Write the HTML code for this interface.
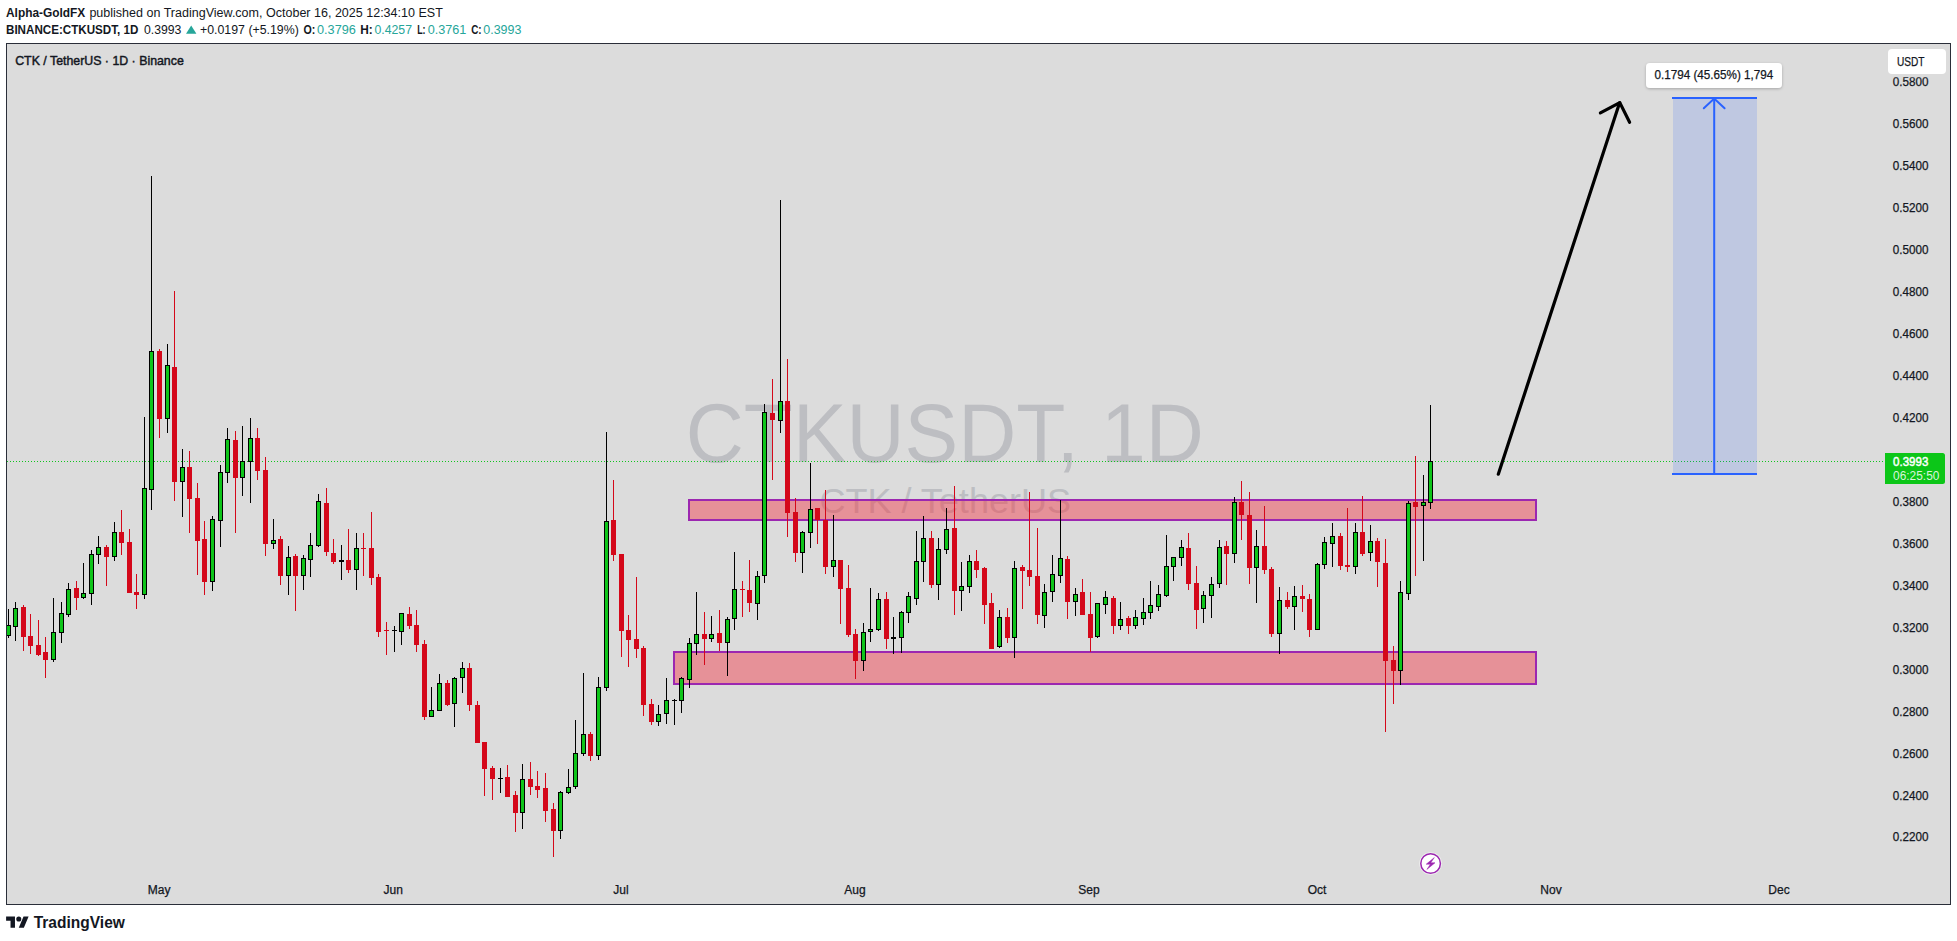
<!DOCTYPE html>
<html lang="en"><head><meta charset="utf-8"><title>CTKUSDT 1D chart</title>
<style>html,body{margin:0;padding:0;background:#fff;overflow:hidden}svg{display:block}text{font-family:"Liberation Sans", Arial, sans-serif;white-space:pre}</style>
</head><body>
<svg width="1957" height="941" viewBox="0 0 1957 941">
<defs><filter id="sh" x="-20%" y="-40%" width="140%" height="200%"><feGaussianBlur in="SourceAlpha" stdDeviation="1.5"/><feOffset dy="1"/><feComponentTransfer><feFuncA type="linear" slope="0.25"/></feComponentTransfer><feMerge><feMergeNode/><feMergeNode in="SourceGraphic"/></feMerge></filter>
<clipPath id="cp"><rect x="7" y="44" width="1943" height="860"/></clipPath></defs>
<rect width="1957" height="941" fill="#fff"/>
<rect x="6.5" y="43.5" width="1944" height="861" fill="#dcdcdc" stroke="#2a2e39" stroke-width="1"/>
<text x="685.8" y="461.5" font-size="84" font-weight="400" fill="#bdbec2" text-anchor="start" textLength="518.0" lengthAdjust="spacingAndGlyphs">CTKUSDT, 1D</text>
<text x="819.4" y="513.2" font-size="35" font-weight="400" fill="#bdbec2" text-anchor="start" textLength="251.6" lengthAdjust="spacingAndGlyphs">CTK / TetherUS</text>
<rect x="689" y="500" width="847" height="20" fill="rgba(242,54,69,0.45)" stroke="#9c27b0" stroke-width="2"/>
<rect x="674" y="652" width="862" height="32" fill="rgba(242,54,69,0.45)" stroke="#9c27b0" stroke-width="2"/>
<line x1="7" y1="461.5" x2="1885" y2="461.5" stroke="#10c41e" stroke-width="1" stroke-dasharray="1 2"/>
<g shape-rendering="crispEdges" clip-path="url(#cp)">
<rect x="8" y="609" width="1" height="29" fill="#000"/>
<rect x="6" y="625" width="5" height="11" fill="#000"/>
<rect x="7" y="626" width="3" height="9" fill="#0ec51a"/>
<rect x="15" y="602" width="1" height="39" fill="#000"/>
<rect x="13" y="608" width="5" height="19" fill="#000"/>
<rect x="14" y="609" width="3" height="17" fill="#0ec51a"/>
<rect x="23" y="605" width="1" height="46" fill="#d4081a"/>
<rect x="21" y="607" width="5" height="30" fill="#d4081a"/>
<rect x="30" y="614" width="1" height="40" fill="#d4081a"/>
<rect x="28" y="636" width="5" height="10" fill="#d4081a"/>
<rect x="38" y="620" width="1" height="36" fill="#d4081a"/>
<rect x="36" y="645" width="5" height="10" fill="#d4081a"/>
<rect x="45" y="637" width="1" height="41" fill="#d4081a"/>
<rect x="43" y="652" width="5" height="8" fill="#d4081a"/>
<rect x="53" y="598" width="1" height="64" fill="#000"/>
<rect x="51" y="632" width="5" height="28" fill="#000"/>
<rect x="52" y="633" width="3" height="26" fill="#0ec51a"/>
<rect x="61" y="602" width="1" height="41" fill="#000"/>
<rect x="59" y="613" width="5" height="20" fill="#000"/>
<rect x="60" y="614" width="3" height="18" fill="#0ec51a"/>
<rect x="68" y="583" width="1" height="34" fill="#000"/>
<rect x="66" y="589" width="5" height="26" fill="#000"/>
<rect x="67" y="590" width="3" height="24" fill="#0ec51a"/>
<rect x="76" y="581" width="1" height="29" fill="#d4081a"/>
<rect x="74" y="588" width="5" height="10" fill="#d4081a"/>
<rect x="83" y="563" width="1" height="36" fill="#000"/>
<rect x="81" y="593" width="5" height="5" fill="#000"/>
<rect x="82" y="594" width="3" height="3" fill="#0ec51a"/>
<rect x="91" y="550" width="1" height="55" fill="#000"/>
<rect x="89" y="554" width="5" height="40" fill="#000"/>
<rect x="90" y="555" width="3" height="38" fill="#0ec51a"/>
<rect x="98" y="536" width="1" height="28" fill="#000"/>
<rect x="96" y="547" width="5" height="8" fill="#000"/>
<rect x="97" y="548" width="3" height="6" fill="#0ec51a"/>
<rect x="106" y="545" width="1" height="41" fill="#d4081a"/>
<rect x="104" y="547" width="5" height="10" fill="#d4081a"/>
<rect x="114" y="522" width="1" height="39" fill="#000"/>
<rect x="112" y="532" width="5" height="25" fill="#000"/>
<rect x="113" y="533" width="3" height="23" fill="#0ec51a"/>
<rect x="121" y="510" width="1" height="45" fill="#d4081a"/>
<rect x="119" y="532" width="5" height="11" fill="#d4081a"/>
<rect x="129" y="529" width="1" height="64" fill="#d4081a"/>
<rect x="127" y="542" width="5" height="51" fill="#d4081a"/>
<rect x="136" y="574" width="1" height="35" fill="#d4081a"/>
<rect x="134" y="592" width="5" height="3" fill="#d4081a"/>
<rect x="144" y="417" width="1" height="182" fill="#000"/>
<rect x="142" y="488" width="5" height="107" fill="#000"/>
<rect x="143" y="489" width="3" height="105" fill="#0ec51a"/>
<rect x="151" y="176" width="1" height="334" fill="#000"/>
<rect x="149" y="351" width="5" height="139" fill="#000"/>
<rect x="150" y="352" width="3" height="137" fill="#0ec51a"/>
<rect x="159" y="349" width="1" height="89" fill="#d4081a"/>
<rect x="157" y="351" width="5" height="68" fill="#d4081a"/>
<rect x="167" y="344" width="1" height="89" fill="#000"/>
<rect x="165" y="365" width="5" height="54" fill="#000"/>
<rect x="166" y="366" width="3" height="52" fill="#0ec51a"/>
<rect x="174" y="291" width="1" height="210" fill="#d4081a"/>
<rect x="172" y="367" width="5" height="115" fill="#d4081a"/>
<rect x="182" y="449" width="1" height="68" fill="#000"/>
<rect x="180" y="467" width="5" height="15" fill="#000"/>
<rect x="181" y="468" width="3" height="13" fill="#0ec51a"/>
<rect x="189" y="451" width="1" height="82" fill="#d4081a"/>
<rect x="187" y="467" width="5" height="32" fill="#d4081a"/>
<rect x="197" y="483" width="1" height="92" fill="#d4081a"/>
<rect x="195" y="498" width="5" height="43" fill="#d4081a"/>
<rect x="204" y="521" width="1" height="74" fill="#d4081a"/>
<rect x="202" y="539" width="5" height="43" fill="#d4081a"/>
<rect x="212" y="516" width="1" height="75" fill="#000"/>
<rect x="210" y="519" width="5" height="63" fill="#000"/>
<rect x="211" y="520" width="3" height="61" fill="#0ec51a"/>
<rect x="220" y="465" width="1" height="82" fill="#000"/>
<rect x="218" y="472" width="5" height="49" fill="#000"/>
<rect x="219" y="473" width="3" height="47" fill="#0ec51a"/>
<rect x="227" y="428" width="1" height="55" fill="#000"/>
<rect x="225" y="439" width="5" height="34" fill="#000"/>
<rect x="226" y="440" width="3" height="32" fill="#0ec51a"/>
<rect x="235" y="431" width="1" height="102" fill="#d4081a"/>
<rect x="233" y="440" width="5" height="38" fill="#d4081a"/>
<rect x="242" y="426" width="1" height="70" fill="#000"/>
<rect x="240" y="461" width="5" height="17" fill="#000"/>
<rect x="241" y="462" width="3" height="15" fill="#0ec51a"/>
<rect x="250" y="418" width="1" height="85" fill="#000"/>
<rect x="248" y="438" width="5" height="24" fill="#000"/>
<rect x="249" y="439" width="3" height="22" fill="#0ec51a"/>
<rect x="257" y="428" width="1" height="52" fill="#d4081a"/>
<rect x="255" y="438" width="5" height="33" fill="#d4081a"/>
<rect x="265" y="457" width="1" height="99" fill="#d4081a"/>
<rect x="263" y="470" width="5" height="74" fill="#d4081a"/>
<rect x="273" y="519" width="1" height="30" fill="#000"/>
<rect x="271" y="540" width="5" height="4" fill="#000"/>
<rect x="272" y="541" width="3" height="2" fill="#0ec51a"/>
<rect x="280" y="536" width="1" height="49" fill="#d4081a"/>
<rect x="278" y="539" width="5" height="37" fill="#d4081a"/>
<rect x="288" y="546" width="1" height="49" fill="#000"/>
<rect x="286" y="557" width="5" height="19" fill="#000"/>
<rect x="287" y="558" width="3" height="17" fill="#0ec51a"/>
<rect x="295" y="554" width="1" height="57" fill="#d4081a"/>
<rect x="293" y="556" width="5" height="20" fill="#d4081a"/>
<rect x="303" y="555" width="1" height="35" fill="#000"/>
<rect x="301" y="558" width="5" height="18" fill="#000"/>
<rect x="302" y="559" width="3" height="16" fill="#0ec51a"/>
<rect x="310" y="533" width="1" height="44" fill="#000"/>
<rect x="308" y="545" width="5" height="15" fill="#000"/>
<rect x="309" y="546" width="3" height="13" fill="#0ec51a"/>
<rect x="318" y="494" width="1" height="53" fill="#000"/>
<rect x="316" y="501" width="5" height="45" fill="#000"/>
<rect x="317" y="502" width="3" height="43" fill="#0ec51a"/>
<rect x="326" y="488" width="1" height="68" fill="#d4081a"/>
<rect x="324" y="503" width="5" height="49" fill="#d4081a"/>
<rect x="333" y="539" width="1" height="25" fill="#d4081a"/>
<rect x="331" y="553" width="5" height="9" fill="#d4081a"/>
<rect x="341" y="545" width="1" height="35" fill="#000"/>
<rect x="339" y="560" width="5" height="2" fill="#000"/>
<rect x="348" y="529" width="1" height="44" fill="#d4081a"/>
<rect x="346" y="560" width="5" height="10" fill="#d4081a"/>
<rect x="356" y="533" width="1" height="57" fill="#000"/>
<rect x="354" y="548" width="5" height="22" fill="#000"/>
<rect x="355" y="549" width="3" height="20" fill="#0ec51a"/>
<rect x="363" y="533" width="1" height="43" fill="#d4081a"/>
<rect x="361" y="548" width="5" height="1" fill="#d4081a"/>
<rect x="371" y="512" width="1" height="73" fill="#d4081a"/>
<rect x="369" y="548" width="5" height="30" fill="#d4081a"/>
<rect x="378" y="574" width="1" height="63" fill="#d4081a"/>
<rect x="376" y="577" width="5" height="55" fill="#d4081a"/>
<rect x="386" y="622" width="1" height="33" fill="#d4081a"/>
<rect x="384" y="630" width="5" height="1" fill="#d4081a"/>
<rect x="394" y="626" width="1" height="26" fill="#000"/>
<rect x="392" y="630" width="5" height="1" fill="#000"/>
<rect x="401" y="613" width="1" height="32" fill="#000"/>
<rect x="399" y="613" width="5" height="19" fill="#000"/>
<rect x="400" y="614" width="3" height="17" fill="#0ec51a"/>
<rect x="409" y="607" width="1" height="22" fill="#d4081a"/>
<rect x="407" y="614" width="5" height="12" fill="#d4081a"/>
<rect x="416" y="610" width="1" height="42" fill="#d4081a"/>
<rect x="414" y="625" width="5" height="20" fill="#d4081a"/>
<rect x="424" y="640" width="1" height="80" fill="#d4081a"/>
<rect x="422" y="644" width="5" height="73" fill="#d4081a"/>
<rect x="431" y="687" width="1" height="30" fill="#000"/>
<rect x="429" y="710" width="5" height="7" fill="#000"/>
<rect x="430" y="711" width="3" height="5" fill="#0ec51a"/>
<rect x="439" y="674" width="1" height="37" fill="#000"/>
<rect x="437" y="683" width="5" height="28" fill="#000"/>
<rect x="438" y="684" width="3" height="26" fill="#0ec51a"/>
<rect x="447" y="680" width="1" height="26" fill="#d4081a"/>
<rect x="445" y="683" width="5" height="22" fill="#d4081a"/>
<rect x="454" y="677" width="1" height="50" fill="#000"/>
<rect x="452" y="678" width="5" height="26" fill="#000"/>
<rect x="453" y="679" width="3" height="24" fill="#0ec51a"/>
<rect x="462" y="662" width="1" height="31" fill="#000"/>
<rect x="460" y="668" width="5" height="10" fill="#000"/>
<rect x="461" y="669" width="3" height="8" fill="#0ec51a"/>
<rect x="469" y="663" width="1" height="48" fill="#d4081a"/>
<rect x="467" y="668" width="5" height="37" fill="#d4081a"/>
<rect x="477" y="701" width="1" height="42" fill="#d4081a"/>
<rect x="475" y="705" width="5" height="38" fill="#d4081a"/>
<rect x="484" y="742" width="1" height="54" fill="#d4081a"/>
<rect x="482" y="742" width="5" height="27" fill="#d4081a"/>
<rect x="492" y="766" width="1" height="34" fill="#d4081a"/>
<rect x="490" y="768" width="5" height="11" fill="#d4081a"/>
<rect x="500" y="768" width="1" height="25" fill="#000"/>
<rect x="498" y="778" width="5" height="1" fill="#000"/>
<rect x="507" y="765" width="1" height="32" fill="#d4081a"/>
<rect x="505" y="777" width="5" height="20" fill="#d4081a"/>
<rect x="515" y="791" width="1" height="41" fill="#d4081a"/>
<rect x="513" y="795" width="5" height="18" fill="#d4081a"/>
<rect x="522" y="764" width="1" height="65" fill="#000"/>
<rect x="520" y="779" width="5" height="34" fill="#000"/>
<rect x="521" y="780" width="3" height="32" fill="#0ec51a"/>
<rect x="530" y="762" width="1" height="33" fill="#d4081a"/>
<rect x="528" y="779" width="5" height="8" fill="#d4081a"/>
<rect x="537" y="771" width="1" height="27" fill="#d4081a"/>
<rect x="535" y="786" width="5" height="4" fill="#d4081a"/>
<rect x="545" y="773" width="1" height="49" fill="#d4081a"/>
<rect x="543" y="788" width="5" height="23" fill="#d4081a"/>
<rect x="553" y="803" width="1" height="54" fill="#d4081a"/>
<rect x="551" y="809" width="5" height="22" fill="#d4081a"/>
<rect x="560" y="791" width="1" height="48" fill="#000"/>
<rect x="558" y="792" width="5" height="39" fill="#000"/>
<rect x="559" y="793" width="3" height="37" fill="#0ec51a"/>
<rect x="568" y="769" width="1" height="25" fill="#000"/>
<rect x="566" y="787" width="5" height="6" fill="#000"/>
<rect x="567" y="788" width="3" height="4" fill="#0ec51a"/>
<rect x="575" y="720" width="1" height="69" fill="#000"/>
<rect x="573" y="753" width="5" height="34" fill="#000"/>
<rect x="574" y="754" width="3" height="32" fill="#0ec51a"/>
<rect x="583" y="673" width="1" height="83" fill="#000"/>
<rect x="581" y="734" width="5" height="20" fill="#000"/>
<rect x="582" y="735" width="3" height="18" fill="#0ec51a"/>
<rect x="590" y="732" width="1" height="29" fill="#d4081a"/>
<rect x="588" y="734" width="5" height="22" fill="#d4081a"/>
<rect x="598" y="677" width="1" height="83" fill="#000"/>
<rect x="596" y="687" width="5" height="69" fill="#000"/>
<rect x="597" y="688" width="3" height="67" fill="#0ec51a"/>
<rect x="606" y="432" width="1" height="259" fill="#000"/>
<rect x="604" y="521" width="5" height="167" fill="#000"/>
<rect x="605" y="522" width="3" height="165" fill="#0ec51a"/>
<rect x="613" y="480" width="1" height="81" fill="#d4081a"/>
<rect x="611" y="520" width="5" height="35" fill="#d4081a"/>
<rect x="621" y="554" width="1" height="103" fill="#d4081a"/>
<rect x="619" y="554" width="5" height="77" fill="#d4081a"/>
<rect x="628" y="615" width="1" height="52" fill="#d4081a"/>
<rect x="626" y="630" width="5" height="10" fill="#d4081a"/>
<rect x="636" y="577" width="1" height="81" fill="#d4081a"/>
<rect x="634" y="639" width="5" height="10" fill="#d4081a"/>
<rect x="643" y="646" width="1" height="70" fill="#d4081a"/>
<rect x="641" y="648" width="5" height="57" fill="#d4081a"/>
<rect x="651" y="699" width="1" height="26" fill="#d4081a"/>
<rect x="649" y="704" width="5" height="18" fill="#d4081a"/>
<rect x="658" y="705" width="1" height="21" fill="#000"/>
<rect x="656" y="714" width="5" height="8" fill="#000"/>
<rect x="657" y="715" width="3" height="6" fill="#0ec51a"/>
<rect x="666" y="678" width="1" height="46" fill="#000"/>
<rect x="664" y="700" width="5" height="14" fill="#000"/>
<rect x="665" y="701" width="3" height="12" fill="#0ec51a"/>
<rect x="674" y="699" width="1" height="26" fill="#000"/>
<rect x="672" y="700" width="5" height="1" fill="#000"/>
<rect x="681" y="677" width="1" height="36" fill="#000"/>
<rect x="679" y="678" width="5" height="23" fill="#000"/>
<rect x="680" y="679" width="3" height="21" fill="#0ec51a"/>
<rect x="689" y="638" width="1" height="50" fill="#000"/>
<rect x="687" y="643" width="5" height="37" fill="#000"/>
<rect x="688" y="644" width="3" height="35" fill="#0ec51a"/>
<rect x="696" y="592" width="1" height="63" fill="#000"/>
<rect x="694" y="634" width="5" height="10" fill="#000"/>
<rect x="695" y="635" width="3" height="8" fill="#0ec51a"/>
<rect x="704" y="612" width="1" height="53" fill="#d4081a"/>
<rect x="702" y="634" width="5" height="5" fill="#d4081a"/>
<rect x="711" y="616" width="1" height="26" fill="#000"/>
<rect x="709" y="634" width="5" height="5" fill="#000"/>
<rect x="710" y="635" width="3" height="3" fill="#0ec51a"/>
<rect x="719" y="610" width="1" height="41" fill="#d4081a"/>
<rect x="717" y="633" width="5" height="10" fill="#d4081a"/>
<rect x="727" y="617" width="1" height="59" fill="#000"/>
<rect x="725" y="619" width="5" height="24" fill="#000"/>
<rect x="726" y="620" width="3" height="22" fill="#0ec51a"/>
<rect x="734" y="552" width="1" height="78" fill="#000"/>
<rect x="732" y="589" width="5" height="30" fill="#000"/>
<rect x="733" y="590" width="3" height="28" fill="#0ec51a"/>
<rect x="742" y="581" width="1" height="36" fill="#d4081a"/>
<rect x="740" y="589" width="5" height="1" fill="#d4081a"/>
<rect x="749" y="560" width="1" height="52" fill="#d4081a"/>
<rect x="747" y="590" width="5" height="13" fill="#d4081a"/>
<rect x="757" y="571" width="1" height="49" fill="#000"/>
<rect x="755" y="576" width="5" height="28" fill="#000"/>
<rect x="756" y="577" width="3" height="26" fill="#0ec51a"/>
<rect x="764" y="404" width="1" height="179" fill="#000"/>
<rect x="762" y="412" width="5" height="164" fill="#000"/>
<rect x="763" y="413" width="3" height="162" fill="#0ec51a"/>
<rect x="772" y="379" width="1" height="101" fill="#d4081a"/>
<rect x="770" y="413" width="5" height="7" fill="#d4081a"/>
<rect x="780" y="200" width="1" height="233" fill="#000"/>
<rect x="778" y="401" width="5" height="20" fill="#000"/>
<rect x="779" y="402" width="3" height="18" fill="#0ec51a"/>
<rect x="787" y="359" width="1" height="178" fill="#d4081a"/>
<rect x="785" y="401" width="5" height="112" fill="#d4081a"/>
<rect x="795" y="498" width="1" height="64" fill="#d4081a"/>
<rect x="793" y="512" width="5" height="41" fill="#d4081a"/>
<rect x="802" y="531" width="1" height="42" fill="#000"/>
<rect x="800" y="532" width="5" height="21" fill="#000"/>
<rect x="801" y="533" width="3" height="19" fill="#0ec51a"/>
<rect x="810" y="463" width="1" height="85" fill="#000"/>
<rect x="808" y="509" width="5" height="24" fill="#000"/>
<rect x="809" y="510" width="3" height="22" fill="#0ec51a"/>
<rect x="817" y="508" width="1" height="36" fill="#d4081a"/>
<rect x="815" y="508" width="5" height="12" fill="#d4081a"/>
<rect x="825" y="490" width="1" height="84" fill="#d4081a"/>
<rect x="823" y="520" width="5" height="47" fill="#d4081a"/>
<rect x="833" y="515" width="1" height="62" fill="#000"/>
<rect x="831" y="560" width="5" height="7" fill="#000"/>
<rect x="832" y="561" width="3" height="5" fill="#0ec51a"/>
<rect x="840" y="560" width="1" height="64" fill="#d4081a"/>
<rect x="838" y="560" width="5" height="29" fill="#d4081a"/>
<rect x="848" y="565" width="1" height="72" fill="#d4081a"/>
<rect x="846" y="588" width="5" height="47" fill="#d4081a"/>
<rect x="855" y="629" width="1" height="50" fill="#d4081a"/>
<rect x="853" y="634" width="5" height="27" fill="#d4081a"/>
<rect x="863" y="623" width="1" height="48" fill="#000"/>
<rect x="861" y="632" width="5" height="29" fill="#000"/>
<rect x="862" y="633" width="3" height="27" fill="#0ec51a"/>
<rect x="870" y="588" width="1" height="54" fill="#000"/>
<rect x="868" y="629" width="5" height="3" fill="#000"/>
<rect x="869" y="630" width="3" height="1" fill="#0ec51a"/>
<rect x="878" y="593" width="1" height="38" fill="#000"/>
<rect x="876" y="599" width="5" height="31" fill="#000"/>
<rect x="877" y="600" width="3" height="29" fill="#0ec51a"/>
<rect x="886" y="592" width="1" height="57" fill="#d4081a"/>
<rect x="884" y="599" width="5" height="40" fill="#d4081a"/>
<rect x="893" y="617" width="1" height="37" fill="#000"/>
<rect x="891" y="637" width="5" height="2" fill="#000"/>
<rect x="901" y="611" width="1" height="42" fill="#000"/>
<rect x="899" y="612" width="5" height="26" fill="#000"/>
<rect x="900" y="613" width="3" height="24" fill="#0ec51a"/>
<rect x="908" y="592" width="1" height="31" fill="#000"/>
<rect x="906" y="596" width="5" height="17" fill="#000"/>
<rect x="907" y="597" width="3" height="15" fill="#0ec51a"/>
<rect x="916" y="531" width="1" height="74" fill="#000"/>
<rect x="914" y="561" width="5" height="38" fill="#000"/>
<rect x="915" y="562" width="3" height="36" fill="#0ec51a"/>
<rect x="923" y="516" width="1" height="66" fill="#000"/>
<rect x="921" y="538" width="5" height="24" fill="#000"/>
<rect x="922" y="539" width="3" height="22" fill="#0ec51a"/>
<rect x="931" y="531" width="1" height="57" fill="#d4081a"/>
<rect x="929" y="538" width="5" height="47" fill="#d4081a"/>
<rect x="938" y="538" width="1" height="62" fill="#000"/>
<rect x="936" y="549" width="5" height="36" fill="#000"/>
<rect x="937" y="550" width="3" height="34" fill="#0ec51a"/>
<rect x="946" y="508" width="1" height="46" fill="#000"/>
<rect x="944" y="529" width="5" height="21" fill="#000"/>
<rect x="945" y="530" width="3" height="19" fill="#0ec51a"/>
<rect x="954" y="486" width="1" height="129" fill="#d4081a"/>
<rect x="952" y="528" width="5" height="63" fill="#d4081a"/>
<rect x="961" y="562" width="1" height="49" fill="#000"/>
<rect x="959" y="586" width="5" height="5" fill="#000"/>
<rect x="960" y="587" width="3" height="3" fill="#0ec51a"/>
<rect x="969" y="555" width="1" height="38" fill="#000"/>
<rect x="967" y="561" width="5" height="26" fill="#000"/>
<rect x="968" y="562" width="3" height="24" fill="#0ec51a"/>
<rect x="976" y="550" width="1" height="28" fill="#d4081a"/>
<rect x="974" y="561" width="5" height="9" fill="#d4081a"/>
<rect x="984" y="567" width="1" height="57" fill="#d4081a"/>
<rect x="982" y="568" width="5" height="37" fill="#d4081a"/>
<rect x="991" y="593" width="1" height="56" fill="#d4081a"/>
<rect x="989" y="603" width="5" height="46" fill="#d4081a"/>
<rect x="999" y="610" width="1" height="38" fill="#000"/>
<rect x="997" y="617" width="5" height="30" fill="#000"/>
<rect x="998" y="618" width="3" height="28" fill="#0ec51a"/>
<rect x="1007" y="608" width="1" height="35" fill="#d4081a"/>
<rect x="1005" y="617" width="5" height="21" fill="#d4081a"/>
<rect x="1014" y="561" width="1" height="97" fill="#000"/>
<rect x="1012" y="568" width="5" height="70" fill="#000"/>
<rect x="1013" y="569" width="3" height="68" fill="#0ec51a"/>
<rect x="1022" y="565" width="1" height="44" fill="#d4081a"/>
<rect x="1020" y="567" width="5" height="4" fill="#d4081a"/>
<rect x="1029" y="492" width="1" height="94" fill="#d4081a"/>
<rect x="1027" y="570" width="5" height="7" fill="#d4081a"/>
<rect x="1037" y="528" width="1" height="96" fill="#d4081a"/>
<rect x="1035" y="576" width="5" height="39" fill="#d4081a"/>
<rect x="1044" y="584" width="1" height="44" fill="#000"/>
<rect x="1042" y="592" width="5" height="24" fill="#000"/>
<rect x="1043" y="593" width="3" height="22" fill="#0ec51a"/>
<rect x="1052" y="555" width="1" height="47" fill="#000"/>
<rect x="1050" y="574" width="5" height="18" fill="#000"/>
<rect x="1051" y="575" width="3" height="16" fill="#0ec51a"/>
<rect x="1060" y="500" width="1" height="83" fill="#000"/>
<rect x="1058" y="558" width="5" height="18" fill="#000"/>
<rect x="1059" y="559" width="3" height="16" fill="#0ec51a"/>
<rect x="1067" y="556" width="1" height="63" fill="#d4081a"/>
<rect x="1065" y="559" width="5" height="43" fill="#d4081a"/>
<rect x="1075" y="588" width="1" height="28" fill="#000"/>
<rect x="1073" y="594" width="5" height="8" fill="#000"/>
<rect x="1074" y="595" width="3" height="6" fill="#0ec51a"/>
<rect x="1082" y="579" width="1" height="36" fill="#d4081a"/>
<rect x="1080" y="592" width="5" height="23" fill="#d4081a"/>
<rect x="1090" y="592" width="1" height="60" fill="#d4081a"/>
<rect x="1088" y="614" width="5" height="24" fill="#d4081a"/>
<rect x="1097" y="603" width="1" height="35" fill="#000"/>
<rect x="1095" y="603" width="5" height="34" fill="#000"/>
<rect x="1096" y="604" width="3" height="32" fill="#0ec51a"/>
<rect x="1105" y="591" width="1" height="23" fill="#000"/>
<rect x="1103" y="597" width="5" height="8" fill="#000"/>
<rect x="1104" y="598" width="3" height="6" fill="#0ec51a"/>
<rect x="1113" y="596" width="1" height="38" fill="#d4081a"/>
<rect x="1111" y="598" width="5" height="28" fill="#d4081a"/>
<rect x="1120" y="602" width="1" height="28" fill="#000"/>
<rect x="1118" y="619" width="5" height="7" fill="#000"/>
<rect x="1119" y="620" width="3" height="5" fill="#0ec51a"/>
<rect x="1128" y="616" width="1" height="18" fill="#d4081a"/>
<rect x="1126" y="618" width="5" height="8" fill="#d4081a"/>
<rect x="1135" y="610" width="1" height="19" fill="#000"/>
<rect x="1133" y="617" width="5" height="9" fill="#000"/>
<rect x="1134" y="618" width="3" height="7" fill="#0ec51a"/>
<rect x="1143" y="598" width="1" height="27" fill="#000"/>
<rect x="1141" y="612" width="5" height="7" fill="#000"/>
<rect x="1142" y="613" width="3" height="5" fill="#0ec51a"/>
<rect x="1150" y="581" width="1" height="38" fill="#000"/>
<rect x="1148" y="605" width="5" height="8" fill="#000"/>
<rect x="1149" y="606" width="3" height="6" fill="#0ec51a"/>
<rect x="1158" y="585" width="1" height="26" fill="#000"/>
<rect x="1156" y="594" width="5" height="13" fill="#000"/>
<rect x="1157" y="595" width="3" height="11" fill="#0ec51a"/>
<rect x="1166" y="535" width="1" height="62" fill="#000"/>
<rect x="1164" y="566" width="5" height="30" fill="#000"/>
<rect x="1165" y="567" width="3" height="28" fill="#0ec51a"/>
<rect x="1173" y="557" width="1" height="24" fill="#000"/>
<rect x="1171" y="557" width="5" height="10" fill="#000"/>
<rect x="1172" y="558" width="3" height="8" fill="#0ec51a"/>
<rect x="1181" y="540" width="1" height="26" fill="#000"/>
<rect x="1179" y="547" width="5" height="11" fill="#000"/>
<rect x="1180" y="548" width="3" height="9" fill="#0ec51a"/>
<rect x="1188" y="533" width="1" height="57" fill="#d4081a"/>
<rect x="1186" y="548" width="5" height="36" fill="#d4081a"/>
<rect x="1196" y="566" width="1" height="63" fill="#d4081a"/>
<rect x="1194" y="583" width="5" height="27" fill="#d4081a"/>
<rect x="1203" y="591" width="1" height="32" fill="#000"/>
<rect x="1201" y="595" width="5" height="14" fill="#000"/>
<rect x="1202" y="596" width="3" height="12" fill="#0ec51a"/>
<rect x="1211" y="577" width="1" height="41" fill="#000"/>
<rect x="1209" y="584" width="5" height="12" fill="#000"/>
<rect x="1210" y="585" width="3" height="10" fill="#0ec51a"/>
<rect x="1219" y="540" width="1" height="48" fill="#000"/>
<rect x="1217" y="547" width="5" height="37" fill="#000"/>
<rect x="1218" y="548" width="3" height="35" fill="#0ec51a"/>
<rect x="1226" y="541" width="1" height="44" fill="#d4081a"/>
<rect x="1224" y="546" width="5" height="8" fill="#d4081a"/>
<rect x="1234" y="497" width="1" height="66" fill="#000"/>
<rect x="1232" y="502" width="5" height="52" fill="#000"/>
<rect x="1233" y="503" width="3" height="50" fill="#0ec51a"/>
<rect x="1241" y="481" width="1" height="59" fill="#d4081a"/>
<rect x="1239" y="502" width="5" height="13" fill="#d4081a"/>
<rect x="1249" y="492" width="1" height="92" fill="#d4081a"/>
<rect x="1247" y="515" width="5" height="53" fill="#d4081a"/>
<rect x="1256" y="530" width="1" height="73" fill="#000"/>
<rect x="1254" y="546" width="5" height="22" fill="#000"/>
<rect x="1255" y="547" width="3" height="20" fill="#0ec51a"/>
<rect x="1264" y="506" width="1" height="68" fill="#d4081a"/>
<rect x="1262" y="546" width="5" height="24" fill="#d4081a"/>
<rect x="1271" y="567" width="1" height="70" fill="#d4081a"/>
<rect x="1269" y="569" width="5" height="65" fill="#d4081a"/>
<rect x="1279" y="587" width="1" height="67" fill="#000"/>
<rect x="1277" y="600" width="5" height="34" fill="#000"/>
<rect x="1278" y="601" width="3" height="32" fill="#0ec51a"/>
<rect x="1287" y="592" width="1" height="17" fill="#d4081a"/>
<rect x="1285" y="600" width="5" height="7" fill="#d4081a"/>
<rect x="1294" y="586" width="1" height="44" fill="#000"/>
<rect x="1292" y="596" width="5" height="11" fill="#000"/>
<rect x="1293" y="597" width="3" height="9" fill="#0ec51a"/>
<rect x="1302" y="585" width="1" height="27" fill="#d4081a"/>
<rect x="1300" y="596" width="5" height="3" fill="#d4081a"/>
<rect x="1309" y="594" width="1" height="43" fill="#d4081a"/>
<rect x="1307" y="599" width="5" height="31" fill="#d4081a"/>
<rect x="1317" y="563" width="1" height="67" fill="#000"/>
<rect x="1315" y="564" width="5" height="66" fill="#000"/>
<rect x="1316" y="565" width="3" height="64" fill="#0ec51a"/>
<rect x="1324" y="537" width="1" height="32" fill="#000"/>
<rect x="1322" y="542" width="5" height="23" fill="#000"/>
<rect x="1323" y="543" width="3" height="21" fill="#0ec51a"/>
<rect x="1332" y="523" width="1" height="44" fill="#000"/>
<rect x="1330" y="536" width="5" height="8" fill="#000"/>
<rect x="1331" y="537" width="3" height="6" fill="#0ec51a"/>
<rect x="1340" y="533" width="1" height="37" fill="#d4081a"/>
<rect x="1338" y="536" width="5" height="30" fill="#d4081a"/>
<rect x="1347" y="508" width="1" height="64" fill="#d4081a"/>
<rect x="1345" y="565" width="5" height="2" fill="#d4081a"/>
<rect x="1355" y="523" width="1" height="51" fill="#000"/>
<rect x="1353" y="532" width="5" height="35" fill="#000"/>
<rect x="1354" y="533" width="3" height="33" fill="#0ec51a"/>
<rect x="1362" y="496" width="1" height="60" fill="#d4081a"/>
<rect x="1360" y="532" width="5" height="22" fill="#d4081a"/>
<rect x="1370" y="525" width="1" height="36" fill="#000"/>
<rect x="1368" y="541" width="5" height="12" fill="#000"/>
<rect x="1369" y="542" width="3" height="10" fill="#0ec51a"/>
<rect x="1377" y="538" width="1" height="49" fill="#d4081a"/>
<rect x="1375" y="541" width="5" height="21" fill="#d4081a"/>
<rect x="1385" y="539" width="1" height="193" fill="#d4081a"/>
<rect x="1383" y="563" width="5" height="98" fill="#d4081a"/>
<rect x="1393" y="646" width="1" height="58" fill="#d4081a"/>
<rect x="1391" y="660" width="5" height="11" fill="#d4081a"/>
<rect x="1400" y="581" width="1" height="104" fill="#000"/>
<rect x="1398" y="592" width="5" height="79" fill="#000"/>
<rect x="1399" y="593" width="3" height="77" fill="#0ec51a"/>
<rect x="1408" y="501" width="1" height="99" fill="#000"/>
<rect x="1406" y="503" width="5" height="91" fill="#000"/>
<rect x="1407" y="504" width="3" height="89" fill="#0ec51a"/>
<rect x="1415" y="456" width="1" height="120" fill="#d4081a"/>
<rect x="1413" y="502" width="5" height="5" fill="#d4081a"/>
<rect x="1423" y="475" width="1" height="86" fill="#000"/>
<rect x="1421" y="502" width="5" height="4" fill="#000"/>
<rect x="1422" y="503" width="3" height="2" fill="#0ec51a"/>
<rect x="1430" y="405" width="1" height="104" fill="#000"/>
<rect x="1428" y="461" width="5" height="42" fill="#000"/>
<rect x="1429" y="462" width="3" height="40" fill="#0ec51a"/>
</g>
<g fill="none" stroke="#000" stroke-width="3.2" stroke-linecap="round" stroke-linejoin="round">
<path d="M1498.3 474.2 L1619.6 102.8"/>
<path d="M1600.4 112.9 L1619.8 102.6 L1629.6 122.3"/>
</g>
<rect x="1673" y="98" width="84" height="376" fill="rgba(41,98,255,0.16)"/>
<g stroke="#2962ff" stroke-width="2" fill="none">
<path d="M1672 98 H1757"/><path d="M1672 474 H1757"/><path d="M1714.2 474 V99"/><path stroke-linecap="round" d="M1703.8 108.3 L1714.2 98.5 L1724.6 108.3"/>
</g>
<rect x="1646" y="63" width="136" height="25" rx="4" fill="#fff" filter="url(#sh)"/>
<text x="1654.6" y="79.3" font-size="12" font-weight="400" fill="#131722" text-anchor="start" textLength="118.6" lengthAdjust="spacingAndGlyphs" stroke="#131722" stroke-width="0.25">0.1794 (45.65%) 1,794</text>
<text x="1892.8" y="86.3" font-size="12" font-weight="400" fill="#131722" text-anchor="start" textLength="35.7" lengthAdjust="spacingAndGlyphs" stroke="#131722" stroke-width="0.25">0.5800</text>
<text x="1892.8" y="128.2" font-size="12" font-weight="400" fill="#131722" text-anchor="start" textLength="35.7" lengthAdjust="spacingAndGlyphs" stroke="#131722" stroke-width="0.25">0.5600</text>
<text x="1892.8" y="170.2" font-size="12" font-weight="400" fill="#131722" text-anchor="start" textLength="35.7" lengthAdjust="spacingAndGlyphs" stroke="#131722" stroke-width="0.25">0.5400</text>
<text x="1892.8" y="212.2" font-size="12" font-weight="400" fill="#131722" text-anchor="start" textLength="35.7" lengthAdjust="spacingAndGlyphs" stroke="#131722" stroke-width="0.25">0.5200</text>
<text x="1892.8" y="254.1" font-size="12" font-weight="400" fill="#131722" text-anchor="start" textLength="35.7" lengthAdjust="spacingAndGlyphs" stroke="#131722" stroke-width="0.25">0.5000</text>
<text x="1892.8" y="296.1" font-size="12" font-weight="400" fill="#131722" text-anchor="start" textLength="35.7" lengthAdjust="spacingAndGlyphs" stroke="#131722" stroke-width="0.25">0.4800</text>
<text x="1892.8" y="338.0" font-size="12" font-weight="400" fill="#131722" text-anchor="start" textLength="35.7" lengthAdjust="spacingAndGlyphs" stroke="#131722" stroke-width="0.25">0.4600</text>
<text x="1892.8" y="380.0" font-size="12" font-weight="400" fill="#131722" text-anchor="start" textLength="35.7" lengthAdjust="spacingAndGlyphs" stroke="#131722" stroke-width="0.25">0.4400</text>
<text x="1892.8" y="421.9" font-size="12" font-weight="400" fill="#131722" text-anchor="start" textLength="35.7" lengthAdjust="spacingAndGlyphs" stroke="#131722" stroke-width="0.25">0.4200</text>
<text x="1892.8" y="505.8" font-size="12" font-weight="400" fill="#131722" text-anchor="start" textLength="35.7" lengthAdjust="spacingAndGlyphs" stroke="#131722" stroke-width="0.25">0.3800</text>
<text x="1892.8" y="547.8" font-size="12" font-weight="400" fill="#131722" text-anchor="start" textLength="35.7" lengthAdjust="spacingAndGlyphs" stroke="#131722" stroke-width="0.25">0.3600</text>
<text x="1892.8" y="589.7" font-size="12" font-weight="400" fill="#131722" text-anchor="start" textLength="35.7" lengthAdjust="spacingAndGlyphs" stroke="#131722" stroke-width="0.25">0.3400</text>
<text x="1892.8" y="631.6" font-size="12" font-weight="400" fill="#131722" text-anchor="start" textLength="35.7" lengthAdjust="spacingAndGlyphs" stroke="#131722" stroke-width="0.25">0.3200</text>
<text x="1892.8" y="673.6" font-size="12" font-weight="400" fill="#131722" text-anchor="start" textLength="35.7" lengthAdjust="spacingAndGlyphs" stroke="#131722" stroke-width="0.25">0.3000</text>
<text x="1892.8" y="715.5" font-size="12" font-weight="400" fill="#131722" text-anchor="start" textLength="35.7" lengthAdjust="spacingAndGlyphs" stroke="#131722" stroke-width="0.25">0.2800</text>
<text x="1892.8" y="757.5" font-size="12" font-weight="400" fill="#131722" text-anchor="start" textLength="35.7" lengthAdjust="spacingAndGlyphs" stroke="#131722" stroke-width="0.25">0.2600</text>
<text x="1892.8" y="799.5" font-size="12" font-weight="400" fill="#131722" text-anchor="start" textLength="35.7" lengthAdjust="spacingAndGlyphs" stroke="#131722" stroke-width="0.25">0.2400</text>
<text x="1892.8" y="841.4" font-size="12" font-weight="400" fill="#131722" text-anchor="start" textLength="35.7" lengthAdjust="spacingAndGlyphs" stroke="#131722" stroke-width="0.25">0.2200</text>
<linearGradient id="fd" x1="0" y1="0" x2="0" y2="1"><stop offset="0" stop-color="#dcdcdc"/><stop offset="1" stop-color="#dcdcdc" stop-opacity="0"/></linearGradient>
<rect x="1886" y="73" width="62" height="6" fill="url(#fd)"/>
<rect x="1888" y="49" width="58" height="25" rx="4" fill="#fff"/>
<text x="1897.0" y="66.2" font-size="12.3" font-weight="400" fill="#131722" text-anchor="start" textLength="27.5" lengthAdjust="spacingAndGlyphs" stroke="#131722" stroke-width="0.25">USDT</text>
<path d="M1885 453 H1942.5 Q1945 453 1945 455.5 V481.5 Q1945 484 1942.5 484 H1885 Z" fill="#0cc618"/>
<text x="1893.0" y="465.8" font-size="12" font-weight="400" fill="#fff" text-anchor="start" textLength="35.3" lengthAdjust="spacingAndGlyphs" stroke="#fff" stroke-width="0.45">0.3993</text>
<text x="1893.0" y="479.8" font-size="12" font-weight="400" fill="#fff" text-anchor="start" textLength="46.4" lengthAdjust="spacingAndGlyphs" fill-opacity="0.85">06:25:50</text>
<text x="159.2" y="894.0" font-size="12" font-weight="400" fill="#131722" text-anchor="middle" stroke="#131722" stroke-width="0.25">May</text>
<text x="393.2" y="894.0" font-size="12" font-weight="400" fill="#131722" text-anchor="middle" stroke="#131722" stroke-width="0.25">Jun</text>
<text x="621.0" y="894.0" font-size="12" font-weight="400" fill="#131722" text-anchor="middle" stroke="#131722" stroke-width="0.25">Jul</text>
<text x="855.0" y="894.0" font-size="12" font-weight="400" fill="#131722" text-anchor="middle" stroke="#131722" stroke-width="0.25">Aug</text>
<text x="1089.0" y="894.0" font-size="12" font-weight="400" fill="#131722" text-anchor="middle" stroke="#131722" stroke-width="0.25">Sep</text>
<text x="1317.0" y="894.0" font-size="12" font-weight="400" fill="#131722" text-anchor="middle" stroke="#131722" stroke-width="0.25">Oct</text>
<text x="1551.0" y="894.0" font-size="12" font-weight="400" fill="#131722" text-anchor="middle" stroke="#131722" stroke-width="0.25">Nov</text>
<text x="1779.0" y="894.0" font-size="12" font-weight="400" fill="#131722" text-anchor="middle" stroke="#131722" stroke-width="0.25">Dec</text>
<circle cx="1430.6" cy="863.5" r="11.3" fill="#fff" opacity="0.6"/>
<circle cx="1430.6" cy="863.5" r="9.8" fill="#fff" stroke="#9c27b0" stroke-width="1.5"/>
<path d="M1434.3 857.6 L1426.2 864.2 L1430.4 864.2 L1426.9 869.4 L1435 862.8 L1430.8 862.8 Z" fill="#9c27b0" stroke="#9c27b0" stroke-width="0.5" stroke-linejoin="round"/>
<text x="15.2" y="65.1" font-size="13" font-weight="400" fill="#131722" text-anchor="start" textLength="168.6" lengthAdjust="spacingAndGlyphs" stroke="#131722" stroke-width="0.45">CTK / TetherUS · 1D · Binance</text>
<text x="6.0" y="17.0" font-size="12.5" font-weight="700" fill="#131722" text-anchor="start" textLength="79.3" lengthAdjust="spacingAndGlyphs">Alpha-GoldFX</text>
<text x="89.4" y="17.0" font-size="12.5" font-weight="400" fill="#131722" text-anchor="start" textLength="353.4" lengthAdjust="spacingAndGlyphs">published on TradingView.com, October 16, 2025 12:34:10 EST</text>
<text x="6.0" y="34.2" font-size="12.5" font-weight="700" fill="#131722" text-anchor="start" textLength="132.3" lengthAdjust="spacingAndGlyphs">BINANCE:CTKUSDT, 1D</text>
<text x="144.0" y="34.2" font-size="12.5" font-weight="400" fill="#131722" text-anchor="start" textLength="37.4" lengthAdjust="spacingAndGlyphs">0.3993</text>
<path d="M186 33.7 L191.2 25.6 L196.4 33.7 Z" fill="#26a69a"/>
<text x="200.0" y="34.2" font-size="12.5" font-weight="400" fill="#131722" text-anchor="start" textLength="98.8" lengthAdjust="spacingAndGlyphs">+0.0197 (+5.19%)</text>
<text x="303.5" y="34.2" font-size="12.5" font-weight="700" fill="#131722" text-anchor="start" textLength="11.8" lengthAdjust="spacingAndGlyphs">O:</text>
<text x="317.0" y="34.2" font-size="12.5" font-weight="400" fill="#26a69a" text-anchor="start" textLength="38.8" lengthAdjust="spacingAndGlyphs">0.3796</text>
<text x="360.2" y="34.2" font-size="12.5" font-weight="700" fill="#131722" text-anchor="start" textLength="12.5" lengthAdjust="spacingAndGlyphs">H:</text>
<text x="374.4" y="34.2" font-size="12.5" font-weight="400" fill="#26a69a" text-anchor="start" textLength="37.6" lengthAdjust="spacingAndGlyphs">0.4257</text>
<text x="417.2" y="34.2" font-size="12.5" font-weight="700" fill="#131722" text-anchor="start" textLength="8.4" lengthAdjust="spacingAndGlyphs">L:</text>
<text x="427.7" y="34.2" font-size="12.5" font-weight="400" fill="#26a69a" text-anchor="start" textLength="38.7" lengthAdjust="spacingAndGlyphs">0.3761</text>
<text x="471.2" y="34.2" font-size="12.5" font-weight="700" fill="#131722" text-anchor="start" textLength="10.4" lengthAdjust="spacingAndGlyphs">C:</text>
<text x="483.3" y="34.2" font-size="12.5" font-weight="400" fill="#26a69a" text-anchor="start" textLength="38.1" lengthAdjust="spacingAndGlyphs">0.3993</text>
<g transform="translate(6.1,913.9) scale(0.634)" fill="#131722"><path d="M14 22H7V11H0V4h14v18zM28 22h-8l7.5-18h8L28 22z"/><circle cx="20" cy="8" r="4"/></g>
<text x="33.7" y="927.6" font-size="15.6" font-weight="700" fill="#131722" text-anchor="start" textLength="91.2" lengthAdjust="spacingAndGlyphs">TradingView</text>
</svg></body></html>
